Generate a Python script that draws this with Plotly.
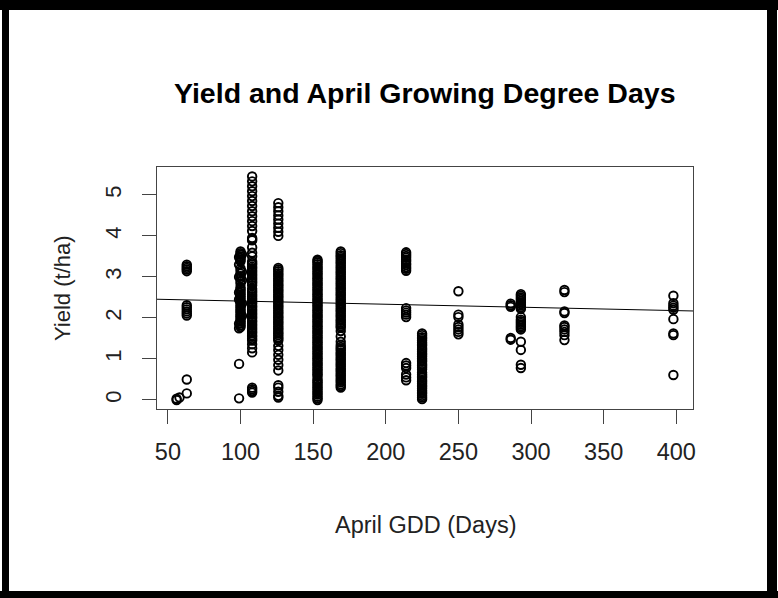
import plotly.graph_objects as go

# ---------------- data ----------------
gdd_56 = [56, 56, 58]
yield_56 = [0.00, 0.03, 0.06]

gdd_63 = 63
yield_63 = [3.14, 3.18, 3.22, 3.26, 3.30, 2.06, 2.11, 2.16, 2.21, 2.26, 2.31, 0.16, 0.50]

gdd_99 = 99
yield_99 = [1.75, 1.86, 2.45, 2.62, 3.00, 3.30, 3.48, 0.88, 0.04]

gdd_100 = 100
yield_100 = [1.78, 1.82, 1.87, 1.91, 1.95, 2.00, 2.04, 2.08, 2.13, 2.17, 2.21, 2.26,
             2.30, 2.35, 2.39, 2.43, 2.48, 2.52, 2.57, 2.61, 2.66, 2.70, 2.75, 2.84,
             2.90, 2.97, 3.02, 3.08, 3.15, 3.21, 3.38, 3.42, 3.46, 3.50, 3.54, 3.58, 3.62]

gdd_101 = 101
yield_101 = [2.05, 2.35, 2.92, 3.12, 3.55]

gdd_108 = 108
yield_108 = [5.45, 5.33, 5.21, 5.09, 4.97, 4.85, 4.73, 4.60, 4.48, 4.36, 4.24, 4.12,
             3.92, 3.89, 3.95, 3.72, 3.59, 3.50,
             1.45, 1.49, 1.54, 1.58, 1.63, 1.67, 1.72, 1.76, 1.81, 1.85, 1.90, 1.94,
             1.99, 2.03, 2.08, 2.12, 2.17, 2.21, 2.26, 2.30, 2.35, 2.39, 2.44, 2.48,
             2.53, 2.57, 2.62, 2.66, 2.71, 2.80, 2.85, 2.89, 2.94, 2.98, 3.03, 3.07,
             3.12, 3.16, 3.21, 3.25, 3.30, 3.34, 3.38,
             1.36, 1.26, 1.16, 0.18, 0.22, 0.26, 0.30]

gdd_126 = 126
yield_126 = [4.80, 4.70, 4.60, 4.50, 4.40, 4.30, 4.20, 4.10, 4.00,
             1.45, 1.49, 1.53, 1.58, 1.62, 1.66, 1.71, 1.75, 1.79, 1.84, 1.88, 1.92,
             1.97, 2.01, 2.05, 2.10, 2.14, 2.18, 2.23, 2.27, 2.31, 2.36, 2.40, 2.44,
             2.49, 2.53, 2.57, 2.62, 2.66, 2.70, 2.75, 2.79, 2.83, 2.88, 2.92, 2.96,
             3.01, 3.05, 3.09, 3.14, 3.18, 3.22,
             1.32, 1.22, 1.10, 0.98, 0.85, 0.72, 0.36, 0.30, 0.20, 0.10, 0.06]

gdd_153 = 153
yield_153 = [0.00, 0.04, 0.08, 0.13, 0.17, 0.21, 0.26, 0.30, 0.34, 0.39, 0.43, 0.47,
             0.51, 0.58, 0.62, 0.66, 0.71, 0.75, 0.79, 0.84, 0.88, 0.92, 0.97, 1.01,
             1.05, 1.10, 1.14, 1.18, 1.23, 1.27, 1.31, 1.36, 1.40, 1.44, 1.49, 1.53,
             1.57, 1.62, 1.66, 1.70, 1.75, 1.79, 1.83, 1.88, 1.92, 1.96, 2.01, 2.05,
             2.09, 2.14, 2.18, 2.22, 2.27, 2.31, 2.35, 2.40, 2.44, 2.48, 2.53, 2.57,
             2.61, 2.66, 2.70, 2.74, 2.79, 2.83, 2.87, 2.92, 2.96, 3.00, 3.05, 3.09,
             3.13, 3.18, 3.22, 3.26, 3.31, 3.35, 3.39, 3.42]

gdd_169 = 169
yield_169 = [0.30, 0.34, 0.38, 0.43, 0.47, 0.51, 0.56, 0.60, 0.64, 0.69, 0.73, 0.77,
             0.82, 0.86, 0.90, 0.95, 0.99, 1.03, 1.08, 1.12, 1.16, 1.21, 1.25, 1.29,
             1.34, 1.42, 1.55, 1.68, 1.76, 1.80, 1.84, 1.89, 1.93, 1.97, 2.02, 2.06,
             2.10, 2.15, 2.19, 2.23, 2.28, 2.32, 2.36, 2.41, 2.45, 2.49, 2.54, 2.58,
             2.62, 2.67, 2.71, 2.75, 2.80, 2.84, 2.88, 2.93, 2.97, 3.01, 3.06, 3.10,
             3.14, 3.19, 3.23, 3.27, 3.32, 3.36, 3.40, 3.45, 3.49, 3.53, 3.58, 3.62]

gdd_214 = 214
yield_214 = [3.15, 3.20, 3.24, 3.29, 3.33, 3.38, 3.42, 3.47, 3.51, 3.56, 3.60,
             2.02, 2.08, 2.13, 2.18, 2.24,
             0.48, 0.55, 0.62, 0.78, 0.84, 0.90]

gdd_225 = 225
yield_225 = [0.02, 0.06, 0.10, 0.15, 0.19, 0.23, 0.28, 0.32, 0.36, 0.41, 0.45, 0.49,
             0.54, 0.58, 0.62, 0.67, 0.75, 0.80, 0.84, 0.88, 0.93, 0.97, 1.01, 1.06,
             1.10, 1.14, 1.19, 1.23, 1.27, 1.32, 1.36, 1.40, 1.45, 1.49, 1.53, 1.58, 1.62]

gdd_250 = 250
yield_250 = [2.65, 2.08, 2.02, 1.84, 1.78, 1.72, 1.66, 1.60]

gdd_286 = 286
yield_286 = [2.27, 2.31, 2.35, 1.47, 1.51]

gdd_293 = 293
yield_293 = [2.22, 2.26, 2.30, 2.34, 2.38, 2.42, 2.46, 2.50, 2.54, 2.58,
             1.72, 1.76, 1.80, 1.84, 1.88, 1.92, 1.96, 2.02,
             1.42, 1.22, 0.86, 0.78]

gdd_323 = 323
yield_323 = [2.63, 2.68, 2.12, 2.16, 1.82, 1.78, 1.72, 1.66, 1.58, 1.46]

gdd_398 = 398
yield_398 = [2.54, 2.36, 2.30, 2.25, 2.20, 1.97, 1.58, 1.62, 0.61]

# fitted regression line (lm coefficients)
lm_intercept = 2.489
lm_slope = -0.000775

x_ticks = [50, 100, 150, 200, 250, 300, 350, 400]
y_ticks = [0, 1, 2, 3, 4, 5]
x_range = [42.5, 411.5]
y_range = [-0.22, 5.68]

title_text = "Yield and April Growing Degree Days"
x_label = "April GDD (Days)"
y_label = "Yield (t/ha)"

# ---------------- assemble ----------------
groups = [
    (gdd_63, yield_63), (gdd_99, yield_99), (gdd_100, yield_100), (gdd_101, yield_101),
    (gdd_108, yield_108), (gdd_126, yield_126), (gdd_153, yield_153), (gdd_169, yield_169),
    (gdd_214, yield_214), (gdd_225, yield_225), (gdd_250, yield_250), (gdd_286, yield_286),
    (gdd_293, yield_293), (gdd_323, yield_323), (gdd_398, yield_398),
]
xs = list(gdd_56)
ys = list(yield_56)
for g, vals in groups:
    xs += [g] * len(vals)
    ys += vals

W, H = 778, 598
ML, MR, MT, MB = 157, 85, 167, 189
PW, PH = W - ML - MR, H - MT - MB


def px(xp):
    return (xp - ML) / PW


def py(yp):
    return (H - MB - yp) / PH


FONT = "Liberation Sans, Arial, sans-serif"

fig = go.Figure()
fig.add_trace(go.Scatter(
    x=xs, y=ys, mode="markers",
    marker=dict(symbol="circle-open", size=8.5, color="black", line=dict(width=1.9, color="black")),
    showlegend=False, hoverinfo="skip",
))
fig.add_trace(go.Scatter(
    x=x_range, y=[lm_intercept + lm_slope * v for v in x_range], mode="lines",
    line=dict(color="black", width=1), showlegend=False, hoverinfo="skip",
))

axis_common = dict(
    showgrid=False, zeroline=False, showline=True, mirror=True,
    linecolor="#444", linewidth=1.3, ticks="outside", ticklen=14,
    tickcolor="#444", tickwidth=1.3,
)

fig.update_layout(
    width=W, height=H,
    margin=dict(l=ML, r=MR, t=MT, b=MB, pad=0),
    paper_bgcolor="white", plot_bgcolor="white",
    xaxis=dict(range=x_range, tickmode="array", tickvals=x_ticks,
               ticktext=[str(v) for v in x_ticks], ticklabelstandoff=8,
               tickfont=dict(family=FONT, size=23.5, color="#222"), **axis_common),
    yaxis=dict(range=y_range, tickmode="array", tickvals=y_ticks,
               ticktext=[str(v) for v in y_ticks], tickangle=-90, ticklabelstandoff=12,
               tickfont=dict(family=FONT, size=22, color="#222"), **axis_common),
    annotations=[
        dict(text="<b>" + title_text + "</b>", xref="paper", yref="paper",
             x=0.5, y=py(93), xanchor="center", yanchor="middle", showarrow=False,
             font=dict(family=FONT, size=28.5, color="black")),
        dict(text=x_label, xref="paper", yref="paper",
             x=0.5, y=py(525), xanchor="center", yanchor="middle", showarrow=False,
             font=dict(family=FONT, size=23.5, color="#222")),
        dict(text=y_label, xref="paper", yref="paper", textangle=-90,
             x=px(62), y=py(288), xanchor="center", yanchor="middle", showarrow=False,
             font=dict(family=FONT, size=22, color="#222")),
    ],
    shapes=[
        dict(type="rect", xref="paper", yref="paper", x0=px(0), x1=px(W), y0=py(10), y1=py(0),
             fillcolor="black", line=dict(width=0), layer="above"),
        dict(type="rect", xref="paper", yref="paper", x0=px(0), x1=px(W), y0=py(H), y1=py(591),
             fillcolor="black", line=dict(width=0), layer="above"),
        dict(type="rect", xref="paper", yref="paper", x0=px(2), x1=px(9), y0=py(H), y1=py(0),
             fillcolor="black", line=dict(width=0), layer="above"),
        dict(type="rect", xref="paper", yref="paper", x0=px(767), x1=px(777), y0=py(H), y1=py(0),
             fillcolor="black", line=dict(width=0), layer="above"),
    ],
)

fig.write_html("out.html")
